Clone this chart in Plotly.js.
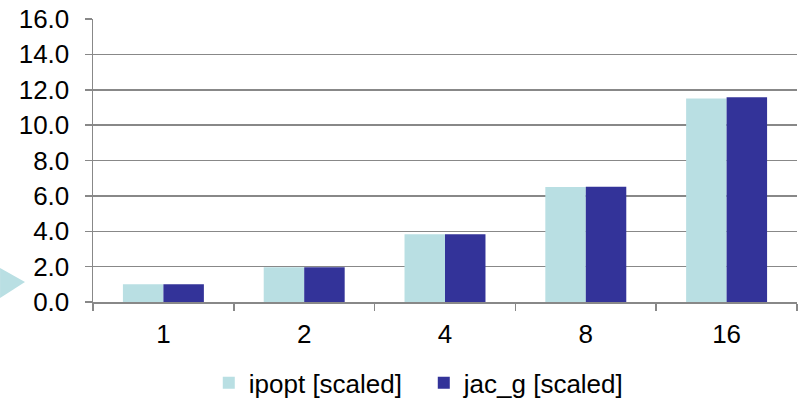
<!DOCTYPE html>
<html>
<head>
<meta charset="utf-8">
<script src="https://cdn.plot.ly/plotly-3.0.1.min.js"></script>
<style>html,body{margin:0;padding:0;background:#fff;}#chart{width:803px;height:401px;}</style>
</head>
<body>
<div id="chart"></div>
<script>
const categories = ["1", "2", "4", "8", "16"];
const ipoptScaled = [1.0, 1.97, 3.83, 6.5, 11.5];
const jacGScaled = [1.0, 1.97, 3.83, 6.52, 11.58];
const seriesNames = ["ipopt [scaled]", "jac_g [scaled]"];
const yTickValues = [0, 2, 4, 6, 8, 10, 12, 14, 16];
const yTickLabels = ["0.0", "2.0", "4.0", "6.0", "8.0", "10.0", "12.0", "14.0", "16.0"];

const font = {family: "Liberation Sans, Arial, sans-serif", size: 26, color: "#000"};

const traces = [
  {type: "bar", name: seriesNames[0], x: categories, y: ipoptScaled,
   marker: {color: "#B9DFE3", line: {width: 0}}},
  {type: "bar", name: seriesNames[1], x: categories, y: jacGScaled,
   marker: {color: "#333399", line: {width: 0}}}
];

const layout = {
  width: 803, height: 401,
  margin: {l: 93, r: 6, t: 19, b: 99, autoexpand: false},
  paper_bgcolor: "#fff", plot_bgcolor: "#fff",
  font: font,
  barmode: "group", bargap: 0.425, bargroupgap: 0,
  showlegend: true,
  legend: {orientation: "h", xref: "container", yref: "container",
           x: 0.26, xanchor: "left", y: 0.045, yanchor: "middle",
           font: font, itemwidth: 30, entrywidth: 170, traceorder: "normal"},
  xaxis: {type: "category", showgrid: false, showline: true, linecolor: "#888", linewidth: 1.5,
          ticks: "outside", tickson: "boundaries", ticklen: 7, tickcolor: "#888", tickwidth: 1.5,
          tickfont: font, zeroline: false, fixedrange: true, automargin: false, ticklabelstandoff: 8},
  yaxis: {range: [0, 16], tickvals: yTickValues, ticktext: yTickLabels,
          showgrid: true, gridcolor: "#888", gridwidth: 1.5,
          showline: true, linecolor: "#888", linewidth: 1.5,
          ticks: "outside", ticklen: 7, tickcolor: "#888", tickwidth: 1.5,
          tickfont: font, zeroline: false, fixedrange: true, ticklabelstandoff: 10, automargin: false},
  shapes: [
    {type: "path", xref: "paper", yref: "paper", layer: "above",
     path: "M -0.132 0.014 L -0.0966 0.0708 L -0.132 0.120 Z",
     fillcolor: "#B9DFE3", line: {width: 0}}
  ]
};

Plotly.newPlot("chart", traces, layout, {displayModeBar: false, staticPlot: true});
</script>
</body>
</html>
